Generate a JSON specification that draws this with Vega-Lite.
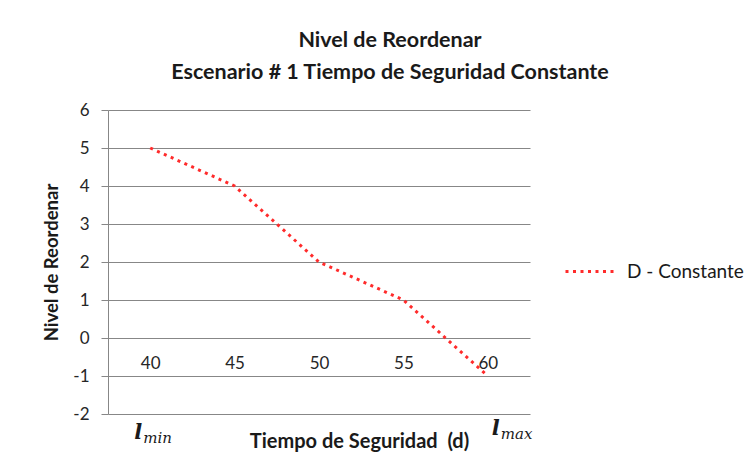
{
  "$schema": "https://vega.github.io/schema/vega-lite/v6.json",
  "width": 422,
  "height": 304,
  "autosize": "none",
  "padding": {"left": 108, "top": 110, "right": 221, "bottom": 54},
  "background": "white",
  "config": {"font": "Lato", "view": {"stroke": null}},
  "title": {
    "text": ["Nivel de Reordenar", "Escenario # 1 Tiempo de Seguridad Constante"],
    "anchor": "middle",
    "fontSize": 21.5,
    "fontWeight": "bold",
    "font": "Lato",
    "color": "#1a1a1a",
    "dx": 71,
    "offset": 18,
    "lineHeight": 32
  },
  "resolve": {"axis": {"x": "independent", "y": "independent"}},
  "datasets": {
    "serie": [
      {"t": "40", "nivel": 5, "serie": "D - Constante"},
      {"t": "45", "nivel": 4, "serie": "D - Constante"},
      {"t": "50", "nivel": 2, "serie": "D - Constante"},
      {"t": "55", "nivel": 1, "serie": "D - Constante"},
      {"t": "60", "nivel": -1, "serie": "D - Constante"}
    ],
    "limites": [
      {"t": "40", "l": "l", "sub": "min", "lado": "min"},
      {"t": "60", "l": "l", "sub": "max", "lado": "max"}
    ]
  },
  "layer": [
    {
      "data": {"name": "serie"},
      "mark": {"type": "line", "strokeDash": [3, 4.5], "strokeWidth": 3, "strokeCap": "butt"},
      "encoding": {
        "x": {
          "field": "t", "type": "ordinal",
          "scale": {"type": "point", "padding": 0.5},
          "axis": {
            "orient": "bottom", "offset": -76, "domain": false, "ticks": false,
            "labelAngle": 0, "labelFontSize": 17, "labelColor": "#262626", "labelPadding": 17,
            "title": "Tiempo de Seguridad \u00a0(d)", "titleFontSize": 20, "titleFontWeight": "bold",
            "titleColor": "#1a1a1a", "titleX": 251, "titleY": 109,
            "titleAlign": "center", "titleBaseline": "alphabetic"
          }
        },
        "y": {
          "field": "nivel", "type": "quantitative",
          "scale": {"domain": [-2, 6], "nice": false, "zero": false},
          "axis": {
            "values": [-2, -1, 0, 1, 2, 3, 4, 5, 6], "tickCount": 9,
            "labelExpr": "replace(datum.label, '\u2212', '-')",
            "grid": true, "gridColor": "#878787", "gridWidth": 1,
            "domainColor": "#878787", "tickColor": "#878787", "tickSize": 7,
            "labelFontSize": 17, "labelColor": "#262626", "labelPadding": 12,
            "title": "Nivel de Reordenar", "titleFontSize": 18.5, "titleFontWeight": "bold",
            "titleColor": "#1a1a1a", "titlePadding": 11
          }
        },
        "color": {
          "field": "serie", "type": "nominal",
          "scale": {"range": ["#ff2b2b"]},
          "legend": {
            "orient": "none", "legendX": 456, "legendY": 135, "title": null,
            "symbolType": "stroke", "symbolStrokeWidth": 3, "symbolDash": [3, 4.5],
            "symbolSize": 2500, "labelFontSize": 19, "labelColor": "#1a1a1a", "labelOffset": 10
          }
        }
      }
    },
    {
      "data": {"name": "limites"},
      "transform": [{"filter": "datum.lado === 'min'"}],
      "mark": {"type": "text", "font": "DejaVu Serif", "fontStyle": "italic", "fontWeight": "bold", "fontSize": 21, "align": "left", "baseline": "alphabetic", "dy": 25, "dx": -16, "color": "#1a1a1a", "clip": false},
      "encoding": {
        "x": {"field": "t", "type": "ordinal", "axis": null},
        "y": {"datum": -2, "axis": null},
        "text": {"field": "l"}
      }
    },
    {
      "data": {"name": "limites"},
      "transform": [{"filter": "datum.lado === 'min'"}],
      "mark": {"type": "text", "font": "DejaVu Serif", "fontStyle": "italic", "fontSize": 15, "align": "left", "baseline": "alphabetic", "dy": 29, "dx": -7, "color": "#1a1a1a", "clip": false},
      "encoding": {
        "x": {"field": "t", "type": "ordinal", "axis": null},
        "y": {"datum": -2, "axis": null},
        "text": {"field": "sub"}
      }
    },
    {
      "data": {"name": "limites"},
      "transform": [{"filter": "datum.lado === 'max'"}],
      "mark": {"type": "text", "font": "DejaVu Serif", "fontStyle": "italic", "fontWeight": "bold", "fontSize": 21, "align": "left", "baseline": "alphabetic", "dy": 21, "dx": 4, "color": "#1a1a1a", "clip": false},
      "encoding": {
        "x": {"field": "t", "type": "ordinal", "axis": null},
        "y": {"datum": -2, "axis": null},
        "text": {"field": "l"}
      }
    },
    {
      "data": {"name": "limites"},
      "transform": [{"filter": "datum.lado === 'max'"}],
      "mark": {"type": "text", "font": "DejaVu Serif", "fontStyle": "italic", "fontSize": 15, "align": "left", "baseline": "alphabetic", "dy": 25, "dx": 13, "color": "#1a1a1a", "clip": false},
      "encoding": {
        "x": {"field": "t", "type": "ordinal", "axis": null},
        "y": {"datum": -2, "axis": null},
        "text": {"field": "sub"}
      }
    }
  ]
}
